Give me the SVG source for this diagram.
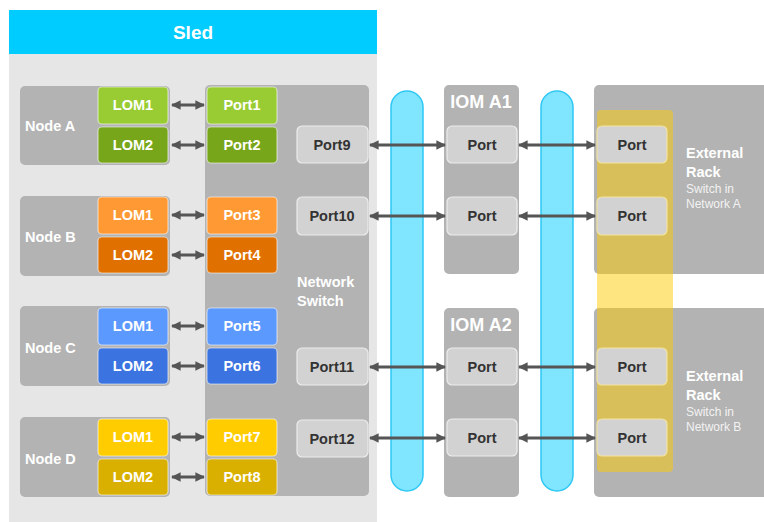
<svg xmlns="http://www.w3.org/2000/svg" width="764" height="522" viewBox="0 0 764 522">
<defs>
<style>
.t{font-family:"Liberation Sans",Arial,sans-serif;font-weight:bold;}
.lab{font-size:14.5px;fill:#fff;text-anchor:middle;}
.plab{font-size:14.5px;fill:#333;text-anchor:middle;}
.node{fill:#b3b3b3;}
.box{stroke:#fff;stroke-opacity:0.55;stroke-width:1.2;}
.gport{fill:#d2d2d2;stroke:#ececec;stroke-width:1.2;}
.conn{stroke:#555;stroke-width:3;fill:none;marker-start:url(#a);marker-end:url(#a);}
.pill{fill:#80e5ff;stroke:#2ec8f5;stroke-width:1.5;}
.sub{font-family:"Liberation Sans",Arial,sans-serif;font-size:12px;fill:#f2f2f2;}
</style>
<marker id="a" viewBox="0 0 10 10" refX="9" refY="5" markerWidth="3.2" markerHeight="3.2" orient="auto-start-reverse" markerUnits="strokeWidth">
<path d="M0,0 L10,5 L0,10 z" fill="#555"/>
</marker>
</defs>
<rect width="764" height="522" fill="#fff"/>
<g id="sled">
<rect x="9" y="54" width="368" height="468" fill="#e6e6e6"/>
<rect x="9" y="10" width="368" height="44" fill="#00ccff"/>
<text class="t" x="193" y="39" font-size="19" fill="#fff" text-anchor="middle">Sled</text>
</g>
<g id="switch">
<rect class="node" x="205" y="85" width="164" height="411" rx="5"/>
<text class="t" x="297" y="287" font-size="14.5" fill="#fff">Network</text>
<text class="t" x="297" y="306" font-size="14.5" fill="#fff">Switch</text>
<rect class="box" x="207" y="87" width="70" height="37" rx="4" fill="#99cc33"/><text class="t lab" x="242" y="110">Port1</text>
<rect class="box" x="207" y="127" width="70" height="36" rx="4" fill="#77a61a"/><text class="t lab" x="242" y="150">Port2</text>
<rect class="box" x="207" y="197" width="70" height="37" rx="4" fill="#ff9933"/><text class="t lab" x="242" y="220">Port3</text>
<rect class="box" x="207" y="237" width="70" height="36" rx="4" fill="#e07000"/><text class="t lab" x="242" y="260">Port4</text>
<rect class="box" x="207" y="308" width="70" height="37" rx="4" fill="#5c99ff"/><text class="t lab" x="242" y="331">Port5</text>
<rect class="box" x="207" y="348" width="70" height="36" rx="4" fill="#3b73e0"/><text class="t lab" x="242" y="371">Port6</text>
<rect class="box" x="207" y="419" width="70" height="37" rx="4" fill="#ffcc00"/><text class="t lab" x="242" y="442">Port7</text>
<rect class="box" x="207" y="459" width="70" height="36" rx="4" fill="#d9b000"/><text class="t lab" x="242" y="482">Port8</text>
<rect class="gport" x="297" y="126" width="71" height="37" rx="5"/><text class="t plab" x="332" y="150">Port9</text>
<rect class="gport" x="297" y="197" width="71" height="38" rx="5"/><text class="t plab" x="332" y="221">Port10</text>
<rect class="gport" x="297" y="348" width="71" height="37" rx="5"/><text class="t plab" x="332" y="372">Port11</text>
<rect class="gport" x="297" y="420" width="71" height="37" rx="5"/><text class="t plab" x="332" y="444">Port12</text>
</g>
<g id="nodeA">
<rect class="node" x="20" y="86" width="150" height="79" rx="5"/>
<text class="t" x="25" y="131" font-size="14.5" fill="#fff">Node A</text>
<rect class="box" x="98" y="87" width="70" height="37" rx="4" fill="#99cc33"/><text class="t lab" x="133" y="110">LOM1</text>
<rect class="box" x="98" y="127" width="70" height="36" rx="4" fill="#77a61a"/><text class="t lab" x="133" y="150">LOM2</text>
</g>
<g id="nodeB">
<rect class="node" x="20" y="196" width="150" height="80" rx="5"/>
<text class="t" x="25" y="242" font-size="14.5" fill="#fff">Node B</text>
<rect class="box" x="98" y="197" width="70" height="37" rx="4" fill="#ff9933"/><text class="t lab" x="133" y="220">LOM1</text>
<rect class="box" x="98" y="237" width="70" height="36" rx="4" fill="#e07000"/><text class="t lab" x="133" y="260">LOM2</text>
</g>
<g id="nodeC">
<rect class="node" x="20" y="306" width="150" height="80" rx="5"/>
<text class="t" x="25" y="353" font-size="14.5" fill="#fff">Node C</text>
<rect class="box" x="98" y="308" width="70" height="37" rx="4" fill="#5c99ff"/><text class="t lab" x="133" y="331">LOM1</text>
<rect class="box" x="98" y="348" width="70" height="36" rx="4" fill="#3b73e0"/><text class="t lab" x="133" y="371">LOM2</text>
</g>
<g id="nodeD">
<rect class="node" x="20" y="417" width="150" height="80" rx="5"/>
<text class="t" x="25" y="464" font-size="14.5" fill="#fff">Node D</text>
<rect class="box" x="98" y="419" width="70" height="37" rx="4" fill="#ffcc00"/><text class="t lab" x="133" y="442">LOM1</text>
<rect class="box" x="98" y="459" width="70" height="36" rx="4" fill="#d9b000"/><text class="t lab" x="133" y="482">LOM2</text>
</g>
<g id="pills">
<rect class="pill" x="391" y="91" width="32" height="400" rx="16"/>
<rect class="pill" x="541" y="91" width="32" height="400" rx="16"/>
</g>
<g id="iomA1">
<rect class="node" x="444" y="85" width="75" height="189" rx="5"/>
<text class="t" x="481" y="108" font-size="18" fill="#fff" text-anchor="middle">IOM A1</text>
<rect class="gport" x="447" y="126" width="70" height="37" rx="5"/><text class="t plab" x="482" y="150">Port</text>
<rect class="gport" x="447" y="197" width="70" height="38" rx="5"/><text class="t plab" x="482" y="221">Port</text>
</g>
<g id="iomA2">
<rect class="node" x="444" y="308" width="75" height="189" rx="5"/>
<text class="t" x="481" y="331" font-size="18" fill="#fff" text-anchor="middle">IOM A2</text>
<rect class="gport" x="447" y="348" width="70" height="37" rx="5"/><text class="t plab" x="482" y="372">Port</text>
<rect class="gport" x="447" y="419" width="70" height="37" rx="5"/><text class="t plab" x="482" y="443">Port</text>
</g>
<g id="rackA">
<rect class="node" x="594" y="85" width="180" height="189" rx="5"/>
<text class="t" x="686" y="158" font-size="14.5" fill="#fff">External</text>
<text class="t" x="686" y="177" font-size="14.5" fill="#fff">Rack</text>
<text class="sub" x="686" y="193">Switch in</text>
<text class="sub" x="686" y="208">Network A</text>
</g>
<g id="rackB">
<rect class="node" x="594" y="308" width="180" height="189" rx="5"/>
<text class="t" x="686" y="381" font-size="14.5" fill="#fff">External</text>
<text class="t" x="686" y="400" font-size="14.5" fill="#fff">Rack</text>
<text class="sub" x="686" y="416">Switch in</text>
<text class="sub" x="686" y="431">Network B</text>
</g>
<g id="band">
<rect x="597" y="110" width="76" height="362" rx="4" fill="#ffcc00" fill-opacity="0.5"/>
<rect class="gport" x="597" y="126" width="70" height="37" rx="5" style="stroke:#f3e3a0"/><text class="t plab" x="632" y="150">Port</text>
<rect class="gport" x="597" y="197" width="70" height="38" rx="5" style="stroke:#f3e3a0"/><text class="t plab" x="632" y="221">Port</text>
<rect class="gport" x="597" y="348" width="70" height="37" rx="5" style="stroke:#f3e3a0"/><text class="t plab" x="632" y="372">Port</text>
<rect class="gport" x="597" y="419" width="70" height="37" rx="5" style="stroke:#f3e3a0"/><text class="t plab" x="632" y="443">Port</text>
</g>
<g id="connectors">
<line class="conn" x1="172" y1="105" x2="204" y2="105"/>
<line class="conn" x1="172" y1="145" x2="204" y2="145"/>
<line class="conn" x1="172" y1="215" x2="204" y2="215"/>
<line class="conn" x1="172" y1="255" x2="204" y2="255"/>
<line class="conn" x1="172" y1="326" x2="204" y2="326"/>
<line class="conn" x1="172" y1="366" x2="204" y2="366"/>
<line class="conn" x1="172" y1="437" x2="204" y2="437"/>
<line class="conn" x1="172" y1="477" x2="204" y2="477"/>
<line class="conn" x1="370" y1="145" x2="445" y2="145"/>
<line class="conn" x1="370" y1="216" x2="445" y2="216"/>
<line class="conn" x1="370" y1="367" x2="445" y2="367"/>
<line class="conn" x1="370" y1="438" x2="445" y2="438"/>
<line class="conn" x1="519" y1="145" x2="595" y2="145"/>
<line class="conn" x1="519" y1="216" x2="595" y2="216"/>
<line class="conn" x1="519" y1="367" x2="595" y2="367"/>
<line class="conn" x1="519" y1="438" x2="595" y2="438"/>
</g>
</svg>
